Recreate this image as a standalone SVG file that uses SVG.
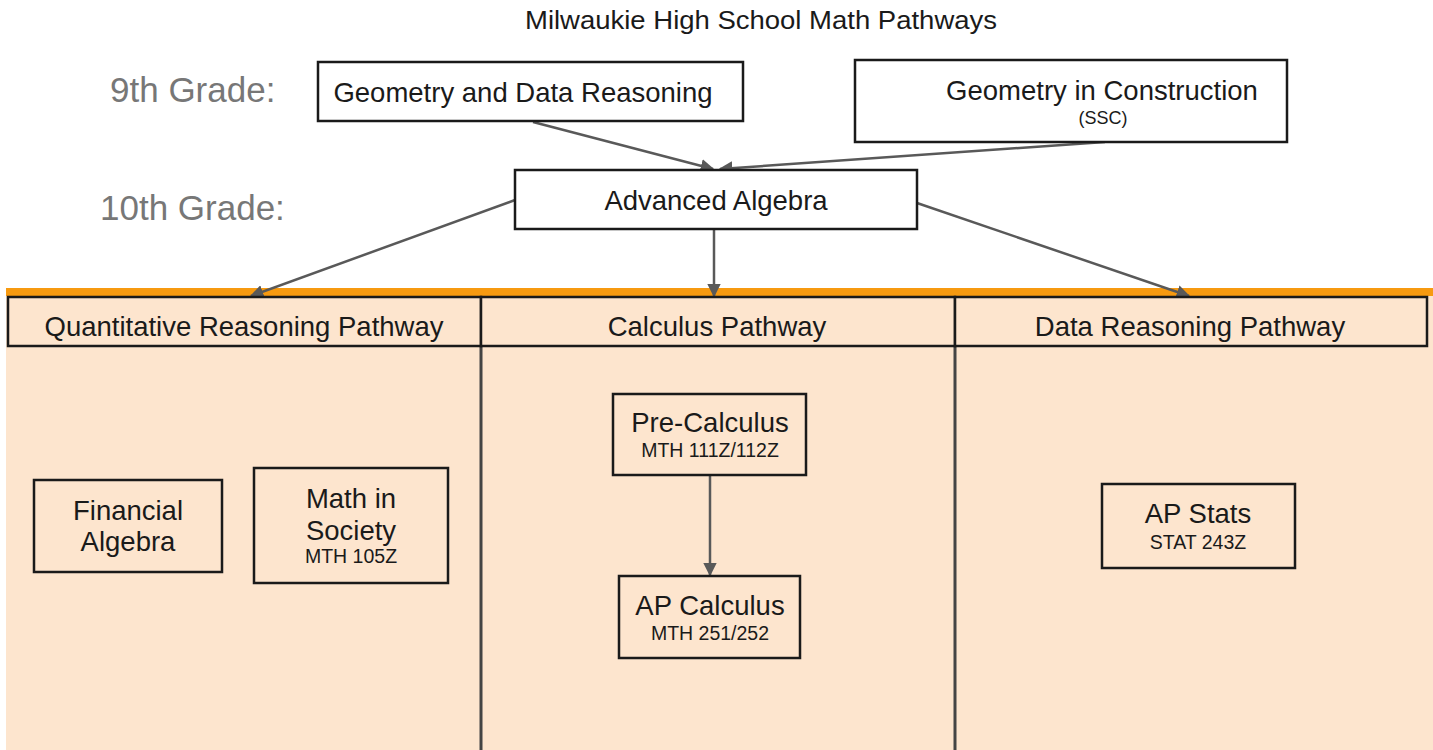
<svg xmlns="http://www.w3.org/2000/svg" width="1433" height="750" viewBox="0 0 1433 750">
<style>
text{font-family:"Liberation Sans",Arial,sans-serif;fill:#1a1a1a;text-anchor:middle}
.box{fill:#fff;stroke:#1a1a1a;stroke-width:2.5}
.pbox{fill:#fde5ce;stroke:#1a1a1a;stroke-width:2.5}
.t22{font-size:27.5px}
.t15{font-size:19.5px}
.grade{font-size:35px;fill:#777;text-anchor:start}
.conn{stroke:#595959;stroke-width:2.5;fill:none;marker-end:url(#ah)}
.div{stroke:#444;stroke-width:3}
</style>
<defs>
<marker id="ah" viewBox="0 0 10 10" refX="9" refY="5" markerWidth="5.5" markerHeight="5.5" orient="auto" markerUnits="strokeWidth">
<path d="M0,0 L10,5 L0,10 z" fill="#595959"/>
</marker>
</defs>
<rect width="1433" height="750" fill="#fff"/>
<g id="background">
<rect x="6" y="296" width="1427" height="454" fill="#fde5ce"/>
<rect x="6" y="288" width="1427" height="8" fill="#f79a10"/>
<line class="div" x1="481" y1="296" x2="481" y2="750"/>
<line class="div" x1="955" y1="296" x2="955" y2="750"/>
</g>
<text x="761" y="29" style="font-size:25px" textLength="472" lengthAdjust="spacingAndGlyphs">Milwaukie High School Math Pathways</text>
<text class="grade" x="110" y="102">9th Grade:</text>
<text class="grade" x="100" y="220">10th Grade:</text>
<g id="connectors">
<line class="conn" x1="533" y1="122" x2="713" y2="169"/>
<line class="conn" x1="1105" y1="142" x2="720" y2="169"/>
<line class="conn" x1="515" y1="200" x2="251" y2="296"/>
<line class="conn" x1="714" y1="230" x2="714" y2="296"/>
<line class="conn" x1="917" y1="203" x2="1189" y2="296"/>
<line class="conn" x1="710" y1="475" x2="710" y2="575"/>
</g>
<g id="geo-data">
<rect class="box" x="318" y="62" width="425" height="59"/>
<text class="t22" x="523" y="102">Geometry and Data Reasoning</text>
</g>
<g id="geo-construction">
<rect class="box" x="855" y="60" width="432" height="82"/>
<text class="t22" x="1102" y="100">Geometry in Construction</text>
<text x="1103" y="124" style="font-size:18px">(SSC)</text>
</g>
<g id="adv-algebra">
<rect class="box" x="515" y="170" width="402" height="59"/>
<text class="t22" x="716" y="210">Advanced Algebra</text>
</g>
<g id="qr-header">
<rect class="pbox" x="8" y="297" width="473" height="49"/>
<text class="t22" x="244" y="336">Quantitative Reasoning Pathway</text>
</g>
<g id="calc-header">
<rect class="pbox" x="481" y="297" width="474" height="49"/>
<text class="t22" x="717" y="336">Calculus Pathway</text>
</g>
<g id="data-header">
<rect class="pbox" x="955" y="297" width="472" height="49"/>
<text class="t22" x="1190" y="336">Data Reasoning Pathway</text>
</g>
<g id="financial-algebra">
<rect class="pbox" x="34" y="480" width="188" height="92"/>
<text class="t22" x="128" y="520">Financial</text>
<text class="t22" x="128" y="551">Algebra</text>
</g>
<g id="math-society">
<rect class="pbox" x="254" y="468" width="194" height="115"/>
<text class="t22" x="351" y="508">Math in</text>
<text class="t22" x="351" y="540">Society</text>
<text class="t15" x="351" y="563">MTH 105Z</text>
</g>
<g id="pre-calculus">
<rect class="pbox" x="613" y="394" width="193" height="81"/>
<text class="t22" x="710" y="432">Pre-Calculus</text>
<text class="t15" x="710" y="457">MTH 111Z/112Z</text>
</g>
<g id="ap-calculus">
<rect class="pbox" x="619" y="576" width="181" height="82"/>
<text class="t22" x="710" y="615">AP Calculus</text>
<text class="t15" x="710" y="640">MTH 251/252</text>
</g>
<g id="ap-stats">
<rect class="pbox" x="1102" y="484" width="193" height="84"/>
<text class="t22" x="1198" y="523">AP Stats</text>
<text class="t15" x="1198" y="549">STAT 243Z</text>
</g>
</svg>
